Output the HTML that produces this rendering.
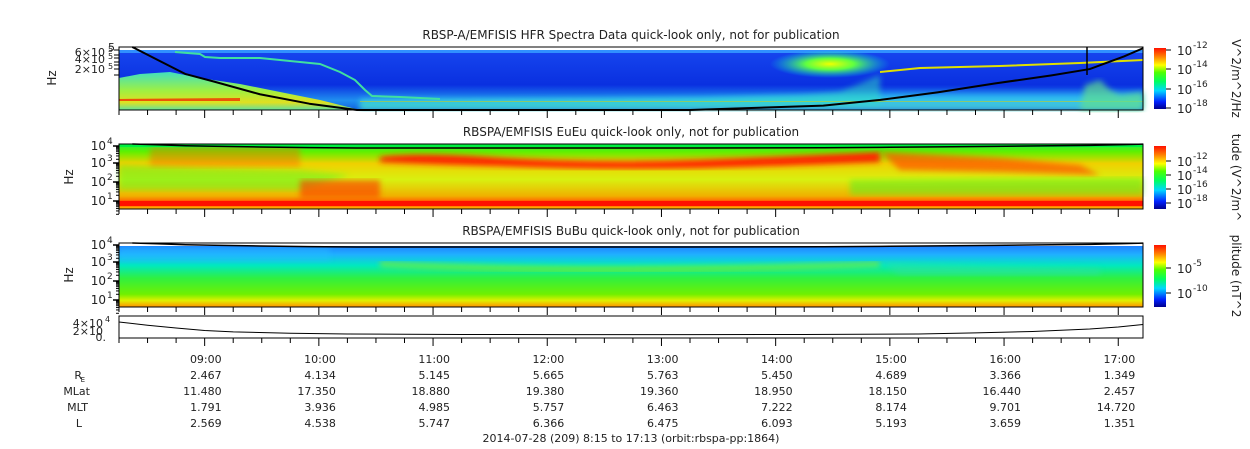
<!DOCTYPE html>
<html><head><meta charset="utf-8">
<style>
html,body{margin:0;padding:0;background:#fff;}
svg{display:block;font-family:"DejaVu Sans","Liberation Sans",sans-serif;}
</style></head>
<body>
<svg id="chart" width="1250" height="449" viewBox="0 0 1250 449" xmlns="http://www.w3.org/2000/svg">
<defs>
<linearGradient id="cb" x1="0" y1="1" x2="0" y2="0">
<stop offset="0" stop-color="#00008c"/><stop offset="0.12" stop-color="#0020ff"/><stop offset="0.3" stop-color="#00d8ff"/>
<stop offset="0.45" stop-color="#00ff60"/><stop offset="0.6" stop-color="#50ff00"/><stop offset="0.72" stop-color="#ffff00"/>
<stop offset="0.86" stop-color="#ff8000"/><stop offset="1" stop-color="#ff1000"/></linearGradient>
<linearGradient id="p1v" x1="0" y1="0" x2="0" y2="1">
<stop offset="0" stop-color="#1848f0"/><stop offset="0.6" stop-color="#0a30e0"/><stop offset="0.85" stop-color="#2090f0"/><stop offset="1" stop-color="#1060e0"/></linearGradient>
<linearGradient id="p1low" x1="0" y1="0" x2="0" y2="1">
<stop offset="0" stop-color="#30c0ff" stop-opacity="0"/><stop offset="0.4" stop-color="#30d0f0" stop-opacity="0.8"/><stop offset="1" stop-color="#50d0d0" stop-opacity="0.9"/></linearGradient>
<linearGradient id="p1ll" x1="0" y1="0" x2="0" y2="1">
<stop offset="0" stop-color="#40e0c0"/><stop offset="0.5" stop-color="#a0f040"/><stop offset="0.8" stop-color="#e0e020"/><stop offset="1" stop-color="#60e0a0"/></linearGradient>
<linearGradient id="p2v" x1="0" y1="0" x2="0" y2="1">
<stop offset="0" stop-color="#20f040"/><stop offset="0.12" stop-color="#60f000"/><stop offset="0.3" stop-color="#f0d000"/><stop offset="0.55" stop-color="#d8f010"/><stop offset="0.8" stop-color="#f0b000"/><stop offset="0.87" stop-color="#ff7000"/><stop offset="0.88" stop-color="#ff1000"/><stop offset="0.95" stop-color="#ff1000"/><stop offset="0.96" stop-color="#ff9000"/><stop offset="1" stop-color="#ffc000"/></linearGradient>
<linearGradient id="p3v" x1="0" y1="0" x2="0" y2="1">
<stop offset="0" stop-color="#2070ff"/><stop offset="0.18" stop-color="#20b0ff"/><stop offset="0.35" stop-color="#00e8c0"/><stop offset="0.55" stop-color="#30f040"/><stop offset="0.8" stop-color="#70f000"/><stop offset="0.9" stop-color="#e0f000"/><stop offset="1" stop-color="#ff9000"/></linearGradient>
<radialGradient id="plume" cx="0.5" cy="0.5" r="0.5">
<stop offset="0" stop-color="#f0ff00"/><stop offset="0.4" stop-color="#60ff40"/><stop offset="1" stop-color="#00e0e0" stop-opacity="0"/></radialGradient>
<filter id="soft"><feGaussianBlur stdDeviation="3"/></filter>
</defs>
<g id="g"></g>
</svg>
<script>
// ---- data ----
const hourLabels=["09:00","10:00","11:00","12:00","13:00","14:00","15:00","16:00","17:00"];
const rowNames=["R_E","MLat","MLT","L"];
const rE=["2.467","4.134","5.145","5.665","5.763","5.450","4.689","3.366","1.349"];
const mLat=["11.480","17.350","18.880","19.380","19.360","18.950","18.150","16.440","2.457"];
const mlt=["1.791","3.936","4.985","5.757","6.463","7.222","8.174","9.701","14.720"];
const lVal=["2.569","4.538","5.747","6.366","6.475","6.093","5.193","3.659","1.351"];
// position panel (x 1e4) at minutes since 8:15
const posMin=[0,15,30,45,60,90,120,150,180,240,300,360,420,450,480,510,525,538];
const posVal=[3.7,2.8,2.0,1.3,0.9,0.5,0.3,0.2,0.15,0.1,0.1,0.15,0.3,0.6,1.0,1.7,2.3,3.0];
// cyclotron curve (fraction of panel height from top) vs minutes
const fceMin=[7,20,35,50,74,100,125,300,370,400,430,460,490,510,528,538];
const fceVal1=[0,0.2,0.43,0.55,0.75,0.9,1.0,1.0,0.93,0.84,0.72,0.58,0.45,0.35,0.15,0.02];
// ---- layout ----
const X0=119,X1=1143,TMIN=538;
const xs=m=>X0+(X1-X0)*m/TMIN;
const g=document.getElementById('g');
const NS="http://www.w3.org/2000/svg";
function mk(t,a,txt){const e=document.createElementNS(NS,t);for(const k in a)e.setAttribute(k,a[k]);if(txt!=null)e.textContent=txt;g.appendChild(e);return e;}
function txt(x,y,s,anchor,size,name){const e=mk('text',{x:x,y:y,'text-anchor':anchor||'middle','font-size':size||11,fill:'#222'},s);

return e;}
// panel 1
let r=mk('rect',{x:X0,y:47,width:X1-X0,height:63,fill:'url(#p1v)'});


mk('rect',{x:X0,y:47,width:X1-X0,height:3,fill:'#ffffff'});
mk('rect',{x:X0,y:50,width:X1-X0,height:3,fill:'#3090ff'});
mk('path',{d:`M360 99 L600 98 L700 97 L780 95 L830 94 L870 92 L${X1} 90 L${X1} 110 L360 110Z`,fill:'url(#p1low)',filter:'url(#soft)'});
mk('path',{d:`M${X0} 110 L${X0} 78 L140 74 L170 72 L200 78 L240 84 L280 92 L320 100 L360 110Z`,fill:'url(#p1ll)'});
mk('path',{d:`M${X0} 99 L240 98 L240 101 L${X0} 101Z`,fill:'#f03000',opacity:0.8});
mk('polyline',{points:`175 52 200 54 205 57 220 58 260 58 300 62 320 64 340 72 355 80 365 90 372 96 400 97 440 99`,fill:'none',stroke:'#40e0a0','stroke-width':2});
mk('polyline',{points:`880 72 920 68 1000 66 1080 63 1143 60`,fill:'none',stroke:'#e0e000','stroke-width':2});
mk('path',{d:`M360 103 L700 100 L800 96 L840 92 L880 75 L880 105 L360 107Z`,fill:'#30e0c0',opacity:0.5,filter:'url(#soft)'});
mk('ellipse',{cx:830,cy:64,rx:60,ry:14,fill:'url(#plume)'});
mk('rect',{x:360,y:101,width:X1-360,height:1,fill:'#e0d000',opacity:0.5});
mk('path',{d:`M1080 110 L1085 85 L1100 80 L1110 90 L1120 95 L1143 92 L1143 110Z`,fill:'#60e090',opacity:0.7,filter:'url(#soft)'});
// panel 2
r=mk('rect',{x:X0,y:144,width:X1-X0,height:65,fill:'url(#p2v)'});


mk('path',{d:`M380 157 Q420 152 500 158 Q600 164 700 160 Q800 156 880 152 L880 162 Q780 166 700 168 Q600 170 500 166 Q420 164 380 162Z`,fill:'#ff2000',filter:'url(#soft)'});
mk('path',{d:`M880 152 L1000 158 L1080 165 L1100 175 L1000 172 L900 170Z`,fill:'#ff5000',opacity:0.7,filter:'url(#soft)'});
mk('rect',{x:150,y:147,width:150,height:20,fill:'#ff6000',opacity:0.4,filter:'url(#soft)'});
mk('path',{d:`M${X0} 165 L200 168 L300 170 L350 175 L300 190 L${X0} 190Z`,fill:'#60f020',opacity:0.5,filter:'url(#soft)'});
mk('path',{d:`M850 180 L1143 178 L1143 195 L850 195Z`,fill:'#50f020',opacity:0.5,filter:'url(#soft)'});
mk('rect',{x:300,y:180,width:80,height:18,fill:'#ff3000',opacity:0.6,filter:'url(#soft)'});
// panel 3
r=mk('rect',{x:X0,y:243,width:X1-X0,height:64,fill:'url(#p3v)'});


mk('path',{d:`M${X0} 247 L330 247 L330 262 L${X0} 262Z`,fill:'#20c0ff',opacity:0.4,filter:'url(#soft)'});
mk('path',{d:`M380 262 Q600 272 880 262 L880 266 Q600 276 380 266Z`,fill:'#a0f000',opacity:0.8,filter:'url(#soft)'});
mk('path',{d:`M880 262 L1000 266 L1100 268 L1100 275 L900 275Z`,fill:'#30e0a0',opacity:0.5,filter:'url(#soft)'});
// cyclotron curves
function curve(y0,y1,name){let pts=fceMin.map((m,i)=>`${xs(m)},${y0+(y1-y0)*fceVal1[i]}`).join(' ');
const e=mk('polyline',{points:pts,fill:'none',stroke:'#000','stroke-width':2,'stroke-linejoin':'round'});

}
curve(47,110,'fce-curve-hfr');
function topCurve(y0,dy,name){const pts=fceMin.map((m,i)=>`${xs(m)},${y0+dy*Math.min(fceVal1[i],1)}`).join(' ');
const e=mk('polyline',{points:pts,fill:'none',stroke:'#000','stroke-width':1.5});

}
mk('rect',{x:X0,y:144,width:X1-X0,height:3,fill:'#00f040'});
topCurve(144,4,'fce-curve-eueu');
mk('rect',{x:X0,y:243,width:X1-X0,height:3,fill:'#fff'});
topCurve(243,4,'fce-curve-bubu');
mk('line',{x1:1087,y1:47,x2:1087,y2:75,stroke:'#000','stroke-width':1.5});
// frames, ticks
function frame(y0,y1,name){const e=mk('rect',{x:X0,y:y0,width:X1-X0,height:y1-y0,fill:'none',stroke:'#000','stroke-width':1});


for(let m=0;m<=TMIN;m+=15){const x=xs(m);const maj=((m-45)%60===0);mk('line',{x1:x,y1:y1,x2:x,y2:y1+(maj?8:5),stroke:'#000'});}}
frame(47,110,'hfr-frame');frame(144,209,'eueu-frame');frame(243,307,'bubu-frame');
// panel 4 position
frame(316,338,'position-frame');
const py=v=>335-(v/4)*14;
let pp=posMin.map((m,i)=>`${xs(m)},${py(posVal[i])}`).join(' ');
const pl=mk('polyline',{points:pp,fill:'none',stroke:'#000','stroke-width':1});


// titles
txt(631,39,'RBSP-A/EMFISIS  HFR Spectra Data quick-look only, not for publication','middle',12,'hfr-title');
txt(631,136,'RBSPA/EMFISIS  EuEu quick-look only, not for publication','middle',12,'eueu-title');
txt(631,235,'RBSPA/EMFISIS  BuBu quick-look only, not for publication','middle',12,'bubu-title');
function ylab(x,y,s,name){const e=txt(x,y,s,'middle',12,name);e.setAttribute('transform',`rotate(-90 ${x} ${y})`);}
ylab(56,78,'Hz','hfr-y-title');ylab(73,177,'Hz','eueu-y-title');ylab(73,275,'Hz','bubu-y-title');
txt(115,51,'5','end',11,'hfr-ytick');
txt(105,56,'6×10','end',11,'hfr-ytick');txt(108,52,'5','start',8,'hfr-ytick-exp');
txt(105,63,'4×10','end',11,'hfr-ytick');txt(108,59,'5','start',8,'hfr-ytick-exp');
txt(105,73,'2×10','end',11,'hfr-ytick');txt(108,69,'5','start',8,'hfr-ytick-exp');
[50,55,58,62,65,69,75].forEach(y=>mk('line',{x1:X0-5,y1:y,x2:X0,y2:y,stroke:'#000'}));
function logAxis(y0,y1,name){const ys=[y0+6,y0+23,y0+42,y0+61];const labs=['4','3','2','1'];
ys.forEach((y,i)=>{txt(106,y,'10','end',12,name);txt(107,y-6,labs[i],'start',9,name+'-exp');mk('line',{x1:X0-6,y1:y-4,x2:X0,y2:y-4,stroke:'#000','stroke-width':1.5});
for(let k=2;k<10;k++){const yy=y-4+ (19*Math.log10(k))*-1+19;mk('line',{x1:X0-3,y1:yy,x2:X0,y2:yy,stroke:'#000'});}});}
logAxis(144,209,'eueu-ytick');logAxis(243,307,'bubu-ytick');
txt(103,327,'4×10','end',11,'pos-ytick');txt(105,322,'4','start',8,'pos-ytick-exp');
txt(103,335,'2×10','end',11,'pos-ytick');
txt(106,341,'0.','end',11,'pos-ytick');
function cbar(y0,y1,labels,title,name){const e=mk('rect',{x:1154,y:y0,width:12,height:y1-y0,fill:'url(#cb)'});


labels.forEach(l=>{const y=l[1];mk('line',{x1:1166,y1:y,x2:1171,y2:y,stroke:'#000'});txt(1177,y+5,'10','start',12,name+'-label');txt(1193,y-2,l[0],'start',9,name+'-exp');});
const t=txt(1232,(y0+y1)/2,title,'middle',12,name+'-title');t.setAttribute('transform',`rotate(90 1232 ${(y0+y1)/2})`);}
cbar(48,109,[["-12",50],["-14",69],["-16",89],["-18",108]],'V^2/m^2/Hz','hfr-colorbar');
cbar(146,209,[["-12",161],["-14",175],["-16",189],["-18",203]],'tude (V^2/m^','eueu-colorbar');
cbar(245,307,[["-5",268],["-10",293]],'plitude (nT^2','bubu-colorbar');
hourLabels.forEach((h,i)=>{const x=xs(45+60*i)+17;
txt(x,363,h,'end',11,'time-label');txt(x,379,rE[i],'end',11,'re-value');txt(x,395,mLat[i],'end',11,'mlat-value');txt(x,411,mlt[i],'end',11,'mlt-value');txt(x,427,lVal[i],'end',11,'l-value');});
txt(82,379,'R','end',11,'re-row-label');txt(85,382,'E','end',7,'re-sub');
txt(90,395,'MLat','end',11,'mlat-row-label');txt(88,411,'MLT','end',11,'mlt-row-label');txt(82,427,'L','end',11,'l-row-label');
txt(631,442,'2014-07-28 (209) 8:15 to 17:13 (orbit:rbspa-pp:1864)','middle',11,'date-caption');
</script>
</body></html>
